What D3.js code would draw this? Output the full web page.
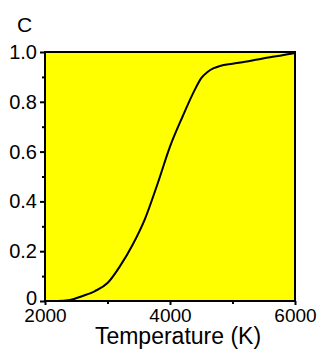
<!DOCTYPE html>
<html><head><meta charset="utf-8">
<script src="https://cdn.jsdelivr.net/npm/d3@7"></script>
<style>body{margin:0;background:#fff;} svg{display:block;}</style>
</head><body>
<svg id="c" width="335" height="356"></svg>
<script>
const temperature = [2000,2200,2400,2600,2800,3000,3200,3400,3600,3800,4000,4200,4400,4500,4600,4700,4800,5000,5200,5400,5600,5800,6000];
const cValues = [0,0,0.004,0.02,0.04,0.072,0.14,0.225,0.33,0.47,0.62,0.74,0.85,0.895,0.92,0.935,0.944,0.953,0.961,0.97,0.979,0.987,0.996];
const xTicks = [2000,4000,6000];
const xMinor = [3000,5000];
const yTicks = [0,0.2,0.4,0.6,0.8,1.0];
const yTickLabels = ["0","0.2","0.4","0.6","0.8","1.0"];
const yMinor = [0.1,0.3,0.5,0.7,0.9];

const svg = d3.select("#c");
const L=45,R=295,T=52,B=301;
const x = d3.scaleLinear().domain([2000,6000]).range([L,R]);
const y = d3.scaleLinear().domain([0,1]).range([B,T]);
const font = "Arial, 'Liberation Sans', sans-serif";

svg.append("rect").attr("x",L).attr("y",T).attr("width",R-L).attr("height",B-T).attr("fill","#ffff00");

const line = d3.line().x((d,i)=>x(temperature[i])).y(d=>y(d)).curve(d3.curveMonotoneX);
svg.append("path").datum(cValues).attr("d",line).attr("fill","none").attr("stroke","#000").attr("stroke-width",2);

svg.append("rect").attr("x",L).attr("y",T).attr("width",R-L).attr("height",B-T).attr("fill","none").attr("stroke","#000").attr("stroke-width",2);

// y axis
const ya = svg.append("g").attr("transform",`translate(${L},0)`)
  .call(d3.axisLeft(y).tickValues(yTicks).tickFormat((d,i)=>yTickLabels[i]).tickSize(5).tickPadding(3));
ya.select(".domain").remove();
ya.selectAll("line").attr("stroke","#000").attr("stroke-width",2);
ya.selectAll("text").attr("font-family",font).attr("font-size",20).attr("fill","#000");
ya.selectAll("text").filter(d=>d===0).attr("y",-3);
const yam = svg.append("g").attr("transform",`translate(${L},0)`)
  .call(d3.axisLeft(y).tickValues(yMinor).tickFormat("").tickSize(3));
yam.select(".domain").remove();
yam.selectAll("line").attr("stroke","#000").attr("stroke-width",2);

// x axis
const xa = svg.append("g").attr("transform",`translate(0,${B})`)
  .call(d3.axisBottom(x).tickValues(xTicks).tickFormat(d3.format("d")).tickSize(4).tickPadding(4));
xa.select(".domain").remove();
xa.selectAll("line").attr("stroke","#000").attr("stroke-width",2);
xa.selectAll("text").attr("font-family",font).attr("font-size",19).attr("fill","#000");
const xam = svg.append("g").attr("transform",`translate(0,${B})`)
  .call(d3.axisBottom(x).tickValues(xMinor).tickFormat("").tickSize(3));
xam.select(".domain").remove();
xam.selectAll("line").attr("stroke","#000").attr("stroke-width",2);

svg.append("text").attr("x",178).attr("y",344).attr("text-anchor","middle")
  .attr("font-family",font).attr("font-size",23).text("Temperature (K)");
svg.append("text").attr("x",17).attr("y",32)
  .attr("font-family",font).attr("font-size",21).text("C");
</script>
</body></html>
